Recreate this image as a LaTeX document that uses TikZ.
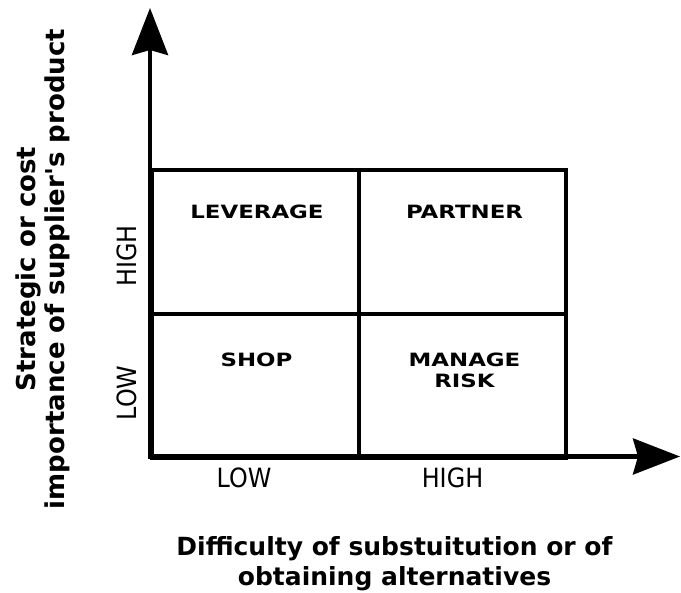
\documentclass[tikz,border=0pt]{standalone}
\usepackage{fontspec}
\setmainfont[Ligatures=TeXOff]{DejaVu Sans}
\newfontfamily\quadfont[FakeStretch=1.25]{DejaVu Sans Bold}
\newfontfamily\labfont[FakeStretch=0.9]{DejaVu Sans}
\usetikzlibrary{arrows.meta}
\begin{document}
\begin{tikzpicture}[x=1pt,y=-1pt,
  cell/.style={draw, line width=3.8pt, minimum width=207pt, minimum height=144pt, inner sep=0pt, anchor=north west},
  quad/.style={font=\quadfont\fontsize{18.3}{21.5}\selectfont, align=center, inner sep=0pt, anchor=north},
  axlab/.style={font=\labfont\fontsize{26.5}{30}\selectfont, inner sep=0pt},
  axtitle/.style={font=\bfseries\fontsize{25}{30}\selectfont, align=center, inner sep=0pt},
  axisline/.style={line width=4.2pt, -{Stealth[length=47pt,width=36pt,inset=5pt]}}]
\useasboundingbox (0,0) rectangle (681,593);
% grid cells
\node[cell] (c11) at (150,168.5) {};
\node[cell] (c12) at (357,168.5) {};
\node[cell] (c21) at (150,312.5) {};
\node[cell] (c22) at (357,312.5) {};
% axes
\coordinate (origin) at (150,458);
\coordinate (ytip) at (150,8);
\coordinate (xstart) at (148,456.5);
\coordinate (xtip) at (680,456.5);
\draw[axisline] (origin) -- (ytip);
\draw[axisline] (xstart) -- (xtip);
% quadrant labels
\node[quad] (lev) at (257,205) {LEVERAGE};
\node[quad] (par) at (464.5,205) {PARTNER};
\node[quad] (shop) at (256.5,352.5) {SHOP};
\node[quad] (risk) at (464.5,352.5) {MANAGE\\RISK};
% axis level labels
\node[axlab] (xlow) at (244,478) {LOW};
\node[axlab] (xhigh) at (452.5,478) {HIGH};
\node[axlab, rotate=90] (yhigh) at (127,256) {HIGH};
\node[axlab, rotate=90] (ylow) at (127,393) {LOW};
% axis titles
\node[axtitle] (xtitle) at (394.5,564) {Difficulty of substuitution or of\\obtaining alternatives};
\node[axtitle, font=\bfseries\fontsize{26}{29}\selectfont, rotate=90] (ytitle) at (43,269) {Strategic or cost\\importance of supplier's product};
\end{tikzpicture}
\end{document}
